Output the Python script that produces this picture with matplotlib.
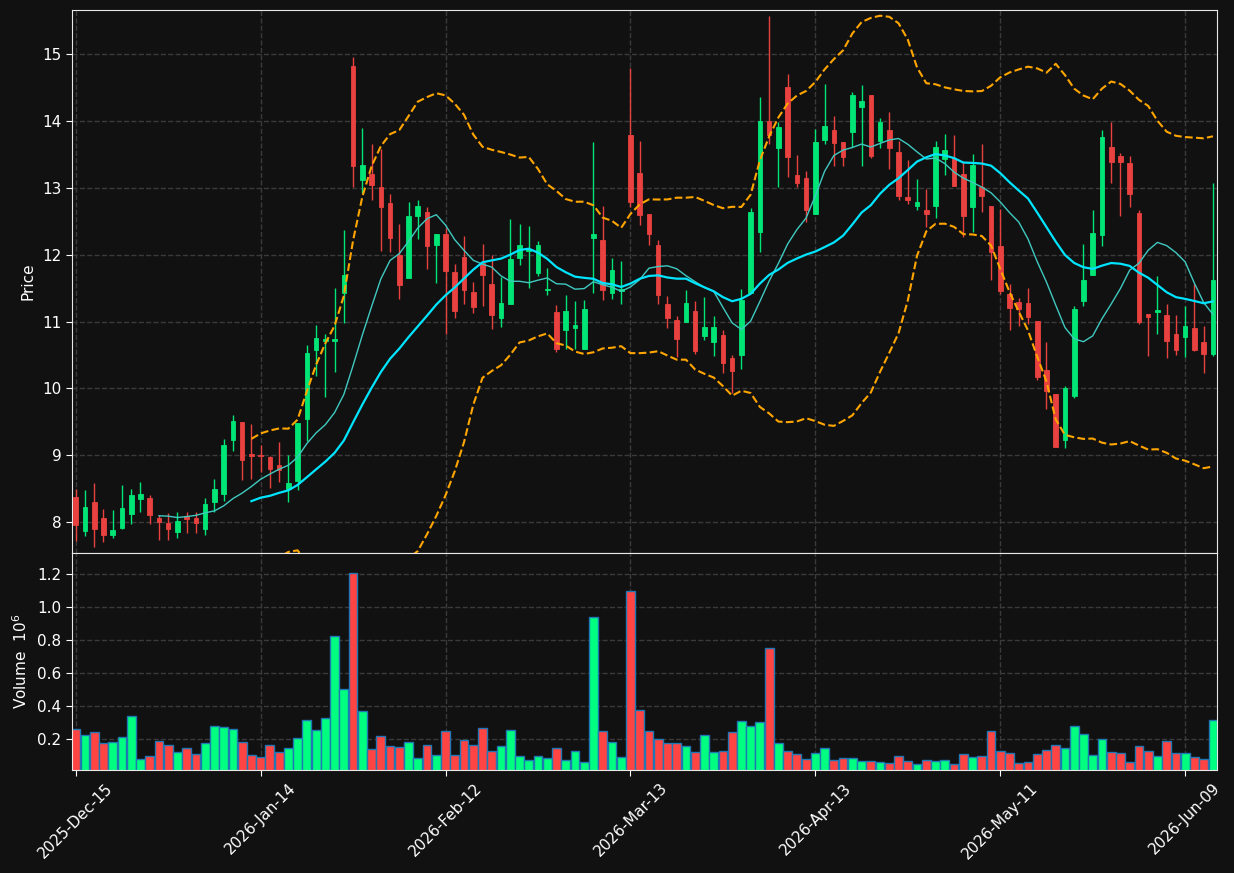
import matplotlib
matplotlib.use('Agg')
import matplotlib.pyplot as plt
import numpy as np
import pandas as pd

# trading days, 2025-12-15 onwards (exchange holidays dropped)
HOLIDAYS = ['2025-12-25', '2026-01-01', '2026-01-19', '2026-02-16', '2026-04-03', '2026-05-25']

OPEN = [8.378, 7.861, 8.303, 8.065, 7.816, 7.920, 8.129, 8.353, 8.363, 8.060,
        7.990, 7.846, 8.095, 8.060, 7.891, 8.308, 8.428, 9.234, 9.497, 9.020,
        9.005, 8.979, 8.855, 8.497, 8.616, 9.541, 10.576, 10.710, 10.710, 11.422,
        14.825, 13.124, 13.213, 13.019, 12.780, 11.989, 11.646, 12.576, 12.646, 12.143,
        12.310, 11.736, 11.960, 11.437, 11.875, 11.557, 11.049, 11.263, 11.950, 12.054,
        11.726, 11.472, 11.139, 10.870, 10.900, 10.597, 12.253, 12.228, 11.427, 11.457,
        13.795, 13.228, 12.616, 12.144, 11.258, 11.019, 10.994, 11.154, 10.785, 10.696,
        10.795, 10.457, 10.502, 11.432, 12.338, 14.004, 13.591, 14.510, 13.198, 13.148,
        12.608, 13.721, 13.870, 13.691, 13.830, 14.203, 14.392, 13.696, 13.870, 13.542,
        12.870, 12.726, 12.676, 12.726, 13.427, 13.442, 13.208, 12.711, 13.019, 12.736,
        12.124, 11.407, 11.288, 11.273, 11.004, 10.273, 9.915, 9.229, 9.885, 11.303,
        11.691, 12.288, 13.616, 13.482, 13.378, 12.631, 11.119, 11.139, 11.094, 10.820,
        10.766, 10.910, 10.701, 10.512]
HIGH = [8.497, 8.478, 8.582, 8.204, 8.179, 8.552, 8.497, 8.602, 8.403, 8.110,
        8.139, 8.149, 8.149, 8.149, 8.363, 8.647, 9.239, 9.597, 9.497, 9.468,
        9.150, 8.994, 9.193, 9.004, 9.482, 10.656, 10.944, 10.810, 11.507, 12.372,
        14.954, 13.895, 13.656, 13.581, 12.910, 12.462, 12.790, 12.815, 12.715, 12.303,
        12.402, 11.865, 12.283, 11.597, 12.164, 11.995, 11.666, 12.537, 12.462, 12.432,
        12.213, 11.806, 11.253, 11.403, 11.303, 11.318, 13.686, 12.726, 11.955, 11.905,
        14.795, 13.706, 12.616, 12.228, 11.388, 11.089, 11.467, 11.303, 11.373, 11.089,
        10.870, 10.507, 11.492, 12.701, 14.362, 15.570, 13.979, 14.700, 13.497, 13.258,
        13.880, 14.552, 14.074, 13.691, 14.427, 14.537, 14.392, 14.044, 14.139, 13.706,
        13.422, 13.134, 12.979, 13.706, 13.805, 13.790, 13.382, 13.507, 13.656, 12.736,
        12.680, 11.567, 11.358, 11.507, 11.004, 10.696, 9.915, 10.034, 11.233, 12.164,
        12.671, 13.865, 13.989, 13.517, 13.482, 12.671, 11.119, 11.676, 11.268, 11.104,
        11.238, 11.567, 10.930, 13.069]
LOW = [7.726, 7.801, 7.622, 7.711, 7.761, 7.891, 7.980, 8.149, 7.980, 7.731,
       7.741, 7.761, 7.836, 7.836, 7.816, 8.149, 8.313, 9.060, 8.627, 8.642,
       8.753, 8.506, 8.606, 8.298, 8.487, 9.218, 10.188, 9.880, 10.248, 10.984,
       13.014, 12.925, 12.815, 12.059, 12.039, 11.342, 11.646, 12.238, 11.780, 11.581,
       10.808, 11.059, 11.268, 11.134, 11.233, 10.890, 10.925, 11.263, 11.845, 11.502,
       11.676, 11.403, 10.547, 10.597, 10.597, 10.597, 11.432, 11.328, 11.338, 11.268,
       12.710, 12.442, 12.144, 11.268, 10.910, 10.472, 10.994, 10.522, 10.731, 10.487,
       10.233, 9.925, 10.298, 11.432, 12.039, 13.656, 13.009, 13.168, 13.009, 12.497,
       12.608, 13.656, 13.323, 13.323, 13.606, 13.323, 13.442, 13.597, 13.278, 12.820,
       12.760, 12.671, 12.412, 12.552, 13.198, 13.024, 12.263, 12.343, 12.636, 11.616,
       11.407, 10.880, 10.930, 10.970, 10.134, 9.686, 9.129, 9.104, 9.865, 11.233,
       11.691, 12.129, 13.069, 12.577, 12.711, 10.960, 10.487, 10.820, 10.462, 10.507,
       10.472, 10.562, 10.234, 10.492]
CLOSE = [7.960, 8.229, 7.905, 7.816, 7.886, 8.214, 8.403, 8.423, 8.114, 8.010,
         7.905, 8.020, 8.055, 7.995, 8.269, 8.498, 9.154, 9.512, 8.935, 8.995,
         8.992, 8.795, 8.785, 8.586, 9.482, 10.526, 10.750, 10.745, 10.745, 11.700,
         13.323, 13.347, 13.049, 12.711, 12.258, 11.541, 12.586, 12.735, 12.138, 12.303,
         11.760, 11.159, 11.467, 11.218, 11.691, 11.094, 11.273, 11.930, 12.139, 12.089,
         12.139, 11.492, 10.597, 11.154, 10.945, 11.184, 12.303, 11.467, 11.766, 11.492,
         12.785, 12.591, 12.308, 11.398, 11.054, 10.741, 11.273, 10.562, 10.915, 10.915,
         10.383, 10.263, 11.318, 12.646, 14.004, 13.785, 13.914, 13.457, 13.069, 12.671,
         13.691, 13.930, 13.676, 13.457, 14.392, 14.293, 13.482, 13.989, 13.592, 12.885,
         12.825, 12.795, 12.606, 13.606, 13.566, 13.024, 12.577, 13.347, 12.885, 12.039,
         11.457, 11.204, 11.189, 11.069, 10.174, 9.965, 9.129, 10.000, 11.194, 11.617,
         12.328, 13.766, 13.393, 13.393, 12.915, 10.995, 11.069, 11.179, 10.711, 10.572,
         10.940, 10.572, 10.512, 11.617]
# volume, millions
VOLUME = [0.260, 0.224, 0.242, 0.175, 0.181, 0.212, 0.339, 0.078, 0.096, 0.187,
          0.163, 0.121, 0.145, 0.109, 0.175, 0.278, 0.272, 0.260, 0.181, 0.103,
          0.090, 0.163, 0.121, 0.145, 0.206, 0.315, 0.254, 0.327, 0.824, 0.503,
          1.206, 0.369, 0.139, 0.218, 0.157, 0.151, 0.181, 0.084, 0.163, 0.103,
          0.248, 0.103, 0.194, 0.163, 0.266, 0.127, 0.157, 0.254, 0.096, 0.072,
          0.096, 0.084, 0.145, 0.072, 0.127, 0.060, 0.939, 0.248, 0.181, 0.090,
          1.096, 0.375, 0.248, 0.200, 0.175, 0.175, 0.157, 0.121, 0.224, 0.121,
          0.127, 0.242, 0.309, 0.278, 0.303, 0.751, 0.175, 0.127, 0.109, 0.078,
          0.115, 0.145, 0.072, 0.084, 0.084, 0.066, 0.066, 0.060, 0.054, 0.096,
          0.066, 0.048, 0.072, 0.066, 0.072, 0.048, 0.109, 0.090, 0.096, 0.248,
          0.127, 0.115, 0.054, 0.060, 0.109, 0.133, 0.163, 0.145, 0.278, 0.230,
          0.103, 0.200, 0.121, 0.115, 0.060, 0.157, 0.127, 0.096, 0.187, 0.115,
          0.115, 0.090, 0.078, 0.315]

BG = '#111111'
UP, DOWN = '#00e676', '#e8413f'
VUP, VDOWN = '#00ff80', '#ff4444'


def main():
    n = len(CLOSE)
    days = pd.bdate_range('2025-12-15', periods=n + 10)
    days = days[~days.isin(pd.to_datetime(HOLIDAYS))][:n]
    x = np.arange(n)
    o, h, l, c = map(np.array, (OPEN, HIGH, LOW, CLOSE))
    up = c >= o

    close = pd.Series(c)
    mav10 = close.rolling(10).mean()
    mav20 = close.rolling(20).mean()
    sd20 = close.rolling(20).std(ddof=0)

    plt.rcParams['font.family'] = 'DejaVu Sans'
    fig = plt.figure(figsize=(12.34, 8.73), dpi=100, facecolor=BG)
    ax1 = fig.add_axes([0.0583, 0.3666, 0.9279, 0.6219], facecolor=BG)
    ax2 = fig.add_axes([0.0583, 0.1180, 0.9279, 0.2486], facecolor=BG, sharex=ax1)

    # candles
    cols = np.where(up, UP, DOWN)
    ax1.vlines(x, l, h, colors=cols, linewidth=1, zorder=2)
    body = np.maximum(np.abs(c - o), 0.02)
    ax1.bar(x, body, bottom=np.minimum(o, c), width=0.5, color=cols,
            edgecolor=cols, linewidth=0.6, zorder=3)

    ax1.plot(x, mav10, color='#3fc9c0', linewidth=1, zorder=4)
    ax1.plot(x, mav20, color='#00e5ff', linewidth=1.6, zorder=4)
    ax1.plot(x, mav20 + 2 * sd20, color='orange', linestyle='--', linewidth=1.5, zorder=4)
    ax1.plot(x, mav20 - 2 * sd20, color='orange', linestyle='--', linewidth=1.5, zorder=4)

    # volume
    vcols = np.where(up, VUP, VDOWN)
    ax2.bar(x, VOLUME, width=0.95, color=vcols, edgecolor='#1f77b4', linewidth=1)

    ax1.set_xlim(-0.41, n - 0.56)
    ax1.set_ylim(7.54, 15.66)
    ax2.set_ylim(0.3 * min(VOLUME), 1.1 * max(VOLUME))
    ax1.set_yticks([8, 9, 10, 11, 12, 13, 14, 15])
    ax2.set_yticks([0.2, 0.4, 0.6, 0.8, 1.0, 1.2])
    ax2.set_yticklabels(['0.2', '0.4', '0.6', '0.8', '1.0', '1.2'])

    ticks = list(range(0, n, 20))
    ax2.set_xticks(ticks)
    ax2.set_xticklabels([days[t].strftime('%Y-%b-%d') for t in ticks], rotation=45)
    plt.setp(ax1.get_xticklabels(), visible=False)

    for ax in (ax1, ax2):
        ax.grid(True, color='#3a3a3a', linestyle='--', linewidth=1)
        ax.set_axisbelow(True)
        ax.tick_params(colors='white', labelsize=11, length=4)
        for s in ax.spines.values():
            s.set_color('#e8e8e8')
    ax1.tick_params(axis='x', length=0)

    ax1.set_ylabel('Price', color='white', fontsize=11)
    ax2.set_ylabel('Volume  $10^{6}$', color='white', fontsize=11)
    ax1.yaxis.set_label_coords(-0.032, 0.5)
    ax2.yaxis.set_label_coords(-0.037, 0.5)

    fig.savefig('out.png', dpi=100, facecolor=BG)


if __name__ == '__main__':
    main()
